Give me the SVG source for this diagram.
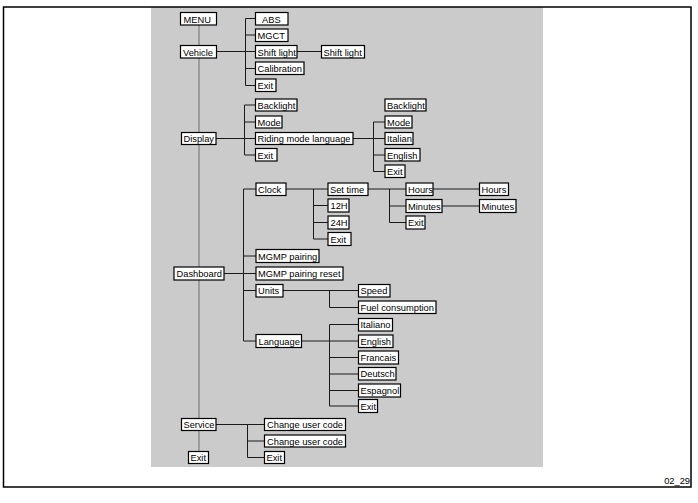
<svg xmlns="http://www.w3.org/2000/svg" width="698" height="503" viewBox="0 0 698 503">
<style>
.bg{fill:#cbcbcb}
.b{fill:#fff;stroke:#000;stroke-width:1.2}
.t{font-family:"Liberation Sans",Arial,sans-serif;font-size:9.3px;fill:#000}
.l{stroke:#1a1a1a;stroke-width:1;fill:none}
.tr{stroke:#8c8c8c;stroke-width:1.5;fill:none}
</style>
<rect x="0" y="0" width="698" height="503" fill="#fff"/>
<rect class="bg" x="151" y="7" width="392" height="460"/>
<path d="M3.5 7 H691 V487 H3.5 Z" fill="none" stroke="#000" stroke-width="1.5"/>
<text class="t" x="690" y="483.5" text-anchor="end" font-size="10">02_29</text>
<g id="connectors">
<path class="tr" d="M199 25 V451.5"/>
<path class="l" d="M216 51.5 H255 M245.5 18.5 V85.5 M245.5 18.5 H255 M245.5 35 H255 M245.5 68.5 H255 M245.5 85.5 H255 M297 51.5 H321"/>
<path class="l" d="M216 138.5 H255.5 M244.5 105 V155 M244.5 105 H255.5 M244.5 122 H255.5 M244.5 155 H255.5 M353 138.5 H385 M373.5 122 V171.5 M373.5 122 H385 M373.5 155 H385 M373.5 171.5 H385"/>
<path class="l" d="M224 273.5 H256 M243.5 189 V341 M243.5 189 H256 M243.5 256 H256 M243.5 290.5 H256 M243.5 341 H256"/>
<path class="l" d="M286 189 H328 M313.5 189 V239 M313.5 205.5 H328 M313.5 222.5 H328 M313.5 239 H328"/>
<path class="l" d="M368 189 H406 M389.5 189 V222.5 M389.5 206 H406 M389.5 222.5 H406 M433 189 H479 M442 206 H479"/>
<path class="l" d="M283 290.5 H358 M329.5 290.5 V307.5 M329.5 307.5 H358"/>
<path class="l" d="M302 341 H358 M329.5 324.5 V406 M329.5 324.5 H358 M329.5 357.5 H358 M329.5 374 H358 M329.5 390.5 H358 M329.5 406 H358"/>
<path class="l" d="M216 424.5 H264 M247.5 424.5 V457.5 M247.5 441 H264 M247.5 457.5 H264"/>
</g>
<g id="menu"><rect class="b" x="180.5" y="12.5" width="36" height="12.5"/><text class="t" x="183.5" y="22.5">MENU</text></g>
<g id="vehicle"><rect class="b" x="180.5" y="45.5" width="36" height="12.5"/><text class="t" x="183" y="55.5">Vehicle</text></g>
<g id="v-abs"><rect class="b" x="255.5" y="12.5" width="32.5" height="12.5"/><text class="t" x="262" y="22.5">ABS</text></g>
<g id="v-mgct"><rect class="b" x="255.5" y="29" width="32.5" height="12.5"/><text class="t" x="257.5" y="39">MGCT</text></g>
<g id="v-shift"><rect class="b" x="255.5" y="45.5" width="41.5" height="12.5"/><text class="t" x="257.5" y="55.5">Shift light</text></g>
<g id="v-shift2"><rect class="b" x="321.5" y="45.5" width="43" height="12.5"/><text class="t" x="323.5" y="55.5">Shift light</text></g>
<g id="v-cal"><rect class="b" x="255.5" y="62" width="48.5" height="12.5"/><text class="t" x="257.5" y="72">Calibration</text></g>
<g id="v-exit"><rect class="b" x="255.5" y="79" width="20.5" height="12.5"/><text class="t" x="257.5" y="89">Exit</text></g>
<g id="display"><rect class="b" x="181.5" y="132.5" width="34.5" height="12"/><text class="t" x="183.5" y="142">Display</text></g>
<g id="d-back"><rect class="b" x="255.5" y="99" width="41.5" height="12"/><text class="t" x="257.5" y="108.5">Backlight</text></g>
<g id="d-mode"><rect class="b" x="255.5" y="116" width="26.5" height="12"/><text class="t" x="257.5" y="125.5">Mode</text></g>
<g id="d-rml"><rect class="b" x="255.5" y="132.5" width="97.5" height="12"/><text class="t" x="257.5" y="142">Riding mode language</text></g>
<g id="d-exit"><rect class="b" x="255.5" y="148.5" width="21.5" height="12.5"/><text class="t" x="257.5" y="158.5">Exit</text></g>
<g id="r-back"><rect class="b" x="385" y="99" width="41" height="12"/><text class="t" x="387" y="108.5">Backlight</text></g>
<g id="r-mode"><rect class="b" x="385" y="116" width="27" height="12"/><text class="t" x="387" y="125.5">Mode</text></g>
<g id="r-ital"><rect class="b" x="385" y="132.5" width="28" height="12"/><text class="t" x="387" y="142">Italian</text></g>
<g id="r-eng"><rect class="b" x="385" y="148.5" width="35" height="12.5"/><text class="t" x="387" y="158.5">English</text></g>
<g id="r-exit"><rect class="b" x="385" y="165" width="20" height="12.5"/><text class="t" x="387" y="175">Exit</text></g>
<g id="dashboard"><rect class="b" x="174" y="267" width="50" height="13"/><text class="t" x="176.5" y="277">Dashboard</text></g>
<g id="db-clock"><rect class="b" x="256" y="183" width="30" height="12.5"/><text class="t" x="258" y="193">Clock</text></g>
<g id="c-set"><rect class="b" x="328" y="183" width="40" height="12.5"/><text class="t" x="330" y="193">Set time</text></g>
<g id="c-12"><rect class="b" x="328" y="199" width="21" height="13"/><text class="t" x="330.5" y="209">12H</text></g>
<g id="c-24"><rect class="b" x="328" y="216" width="21" height="13"/><text class="t" x="330.5" y="226">24H</text></g>
<g id="c-exit"><rect class="b" x="328" y="232.5" width="23" height="13"/><text class="t" x="330.5" y="242.5">Exit</text></g>
<g id="s-hours"><rect class="b" x="406" y="183" width="27" height="12.5"/><text class="t" x="408" y="193">Hours</text></g>
<g id="s-min"><rect class="b" x="406" y="199.5" width="36" height="13"/><text class="t" x="408" y="209.5">Minutes</text></g>
<g id="s-exit"><rect class="b" x="406" y="216" width="19" height="13"/><text class="t" x="408" y="226">Exit</text></g>
<g id="h-hours"><rect class="b" x="479.5" y="183" width="29" height="12.5"/><text class="t" x="481.5" y="193">Hours</text></g>
<g id="h-min"><rect class="b" x="479.5" y="199.5" width="36.5" height="13"/><text class="t" x="481.5" y="209.5">Minutes</text></g>
<g id="db-mgmp"><rect class="b" x="256" y="249.5" width="63" height="13"/><text class="t" x="258" y="259.5">MGMP pairing</text></g>
<g id="db-mgmpr"><rect class="b" x="256" y="267" width="87" height="13"/><text class="t" x="258" y="277">MGMP pairing reset</text></g>
<g id="db-units"><rect class="b" x="256" y="284.5" width="27" height="12.5"/><text class="t" x="258" y="294">Units</text></g>
<g id="u-speed"><rect class="b" x="358.5" y="284.5" width="31.5" height="12.5"/><text class="t" x="360.5" y="294">Speed</text></g>
<g id="u-fuel"><rect class="b" x="358.5" y="301" width="77.5" height="12.5"/><text class="t" x="360.5" y="311">Fuel consumption</text></g>
<g id="db-lang"><rect class="b" x="256" y="334.5" width="45.5" height="13"/><text class="t" x="258.5" y="344.5">Language</text></g>
<g id="l-ita"><rect class="b" x="358.5" y="318.5" width="34" height="12.5"/><text class="t" x="360.5" y="328">Italiano</text></g>
<g id="l-eng"><rect class="b" x="358.5" y="335" width="34.5" height="12.5"/><text class="t" x="360.5" y="344.5">English</text></g>
<g id="l-fra"><rect class="b" x="358.5" y="351" width="40" height="13"/><text class="t" x="360.5" y="361">Francais</text></g>
<g id="l-deu"><rect class="b" x="358.5" y="367.5" width="37.5" height="12.5"/><text class="t" x="360.5" y="377">Deutsch</text></g>
<g id="l-esp"><rect class="b" x="358.5" y="384" width="42" height="13"/><text class="t" x="360.5" y="394">Espagnol</text></g>
<g id="l-exit"><rect class="b" x="358.5" y="399.5" width="19" height="13"/><text class="t" x="360.5" y="409.5">Exit</text></g>
<g id="service"><rect class="b" x="181.5" y="418.5" width="34.5" height="12"/><text class="t" x="183.5" y="428">Service</text></g>
<g id="sv-c1"><rect class="b" x="264.5" y="418.5" width="81" height="12"/><text class="t" x="267" y="428">Change user code</text></g>
<g id="sv-c2"><rect class="b" x="264.5" y="435" width="81" height="12"/><text class="t" x="267" y="444.5">Change user code</text></g>
<g id="sv-exit"><rect class="b" x="264.5" y="451.5" width="20" height="12"/><text class="t" x="266.5" y="461">Exit</text></g>
<g id="exit"><rect class="b" x="188.5" y="451.5" width="20" height="12"/><text class="t" x="190.5" y="461">Exit</text></g>
</svg>
